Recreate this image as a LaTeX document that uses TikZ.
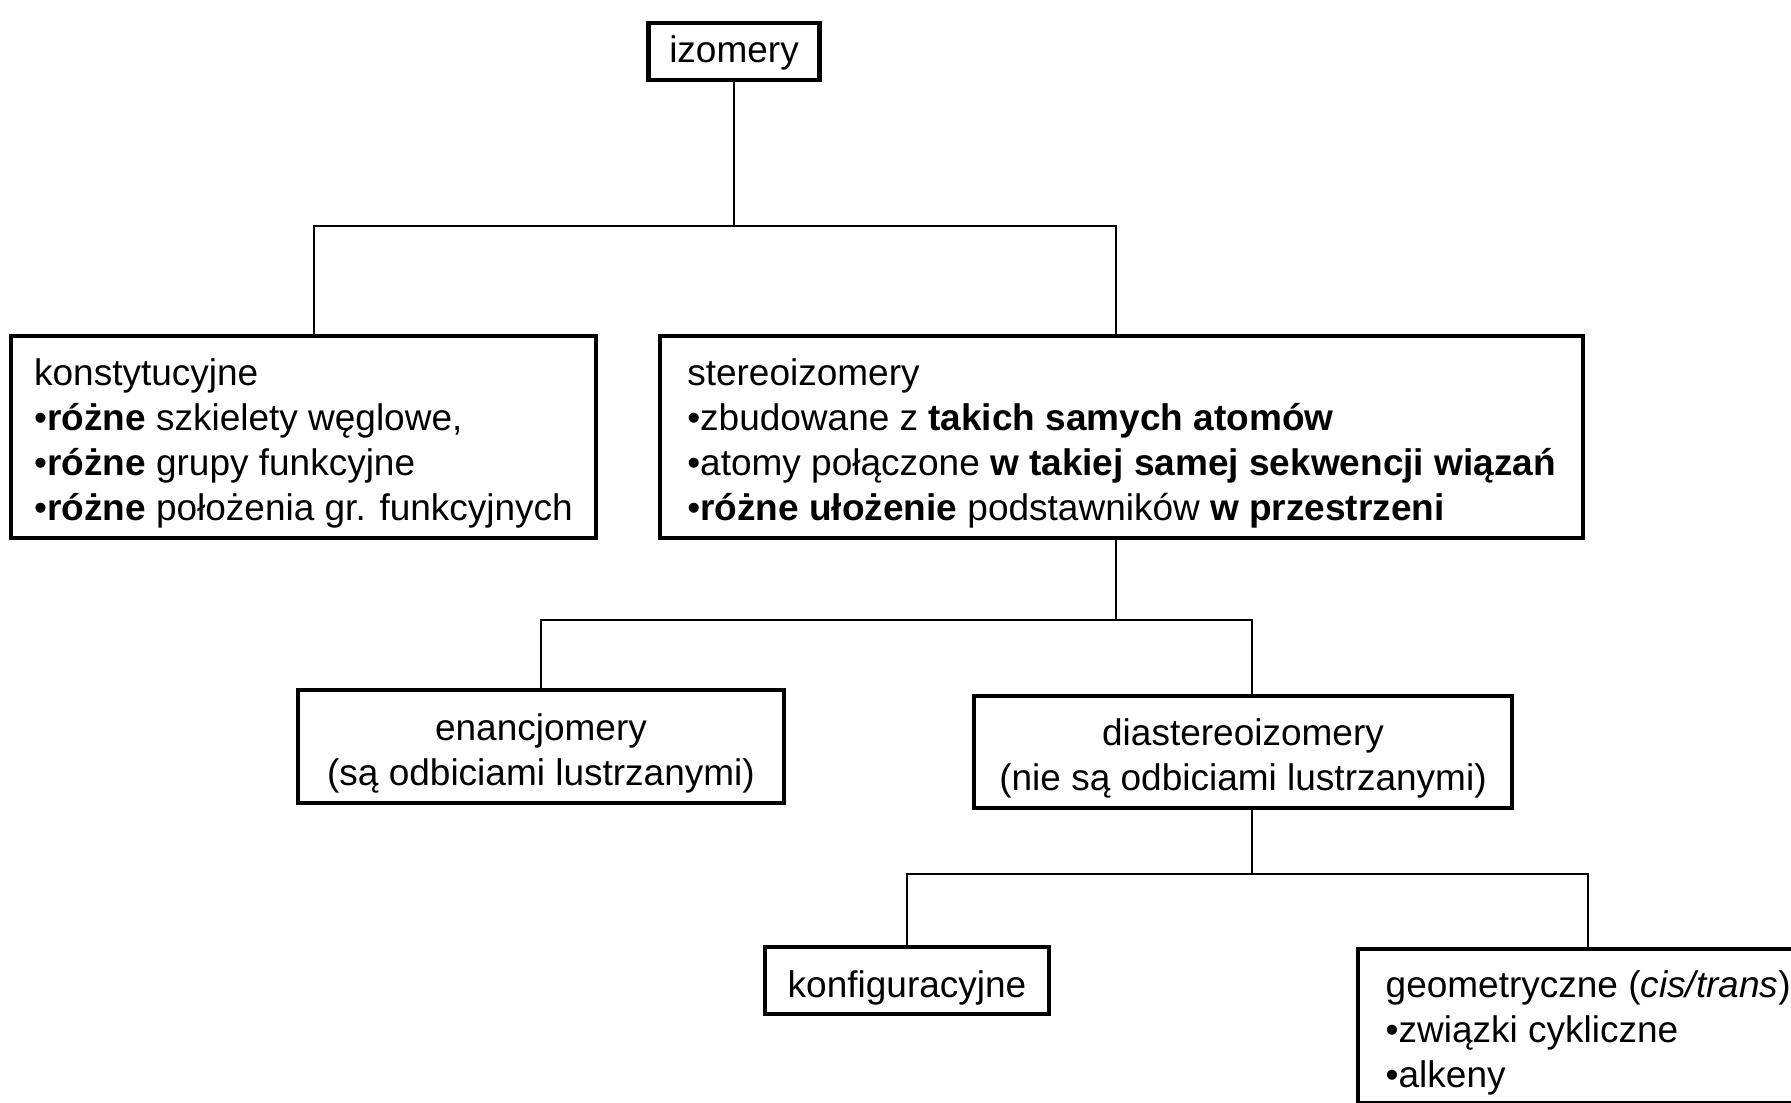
\documentclass[tikz,border=0pt]{standalone}
\usepackage{fontspec}
\setmainfont{Liberation Sans}
\usepackage{tikz}

\newcommand{\boxtext}[3][l]{\raisebox{#2}[\height][\depth]{\begin{tabular}{@{}#1@{}}#3\end{tabular}}}

\begin{document}
\begin{tikzpicture}[x=1pt,y=-1pt]
   \useasboundingbox (0,0) rectangle (895.5,551);
   \begin{scope}[every node/.style={draw=black,line width=2.2pt,inner xsep=10pt,inner ysep=2pt,font=\fontsize{18.5}{22.5}\selectfont}]
    \node[minimum width=85.5pt,minimum height=28.5pt] (izo) at (367,25.75) {\boxtext[c]{-1.2pt}{izomery}};
    \node[minimum width=292.5pt,minimum height=101pt] (konst) at (151.75,218.5)
      {\boxtext{-3.5pt}{konstytucyjne\\
       •\textbf{różne} szkielety węglowe,\\
       •\textbf{różne} grupy funkcyjne\\
       •\textbf{różne} położenia gr. funkcyjnych}};
    \node[minimum width=461.5pt,minimum height=101pt] (stereo) at (560.75,218.5)
      {\boxtext{-3.5pt}{stereoizomery\\
       •zbudowane z \textbf{takich samych atomów}\\
       •atomy połączone \textbf{w takiej samej sekwencji wiązań}\\
       •\textbf{różne ułożenie} podstawników \textbf{w przestrzeni}}};
    \node[minimum width=243pt,minimum height=56.5pt] (enan) at (270.5,373.25)
      {\boxtext[c]{-3.5pt}{enancjomery\\(są odbiciami lustrzanymi)}};
    \node[minimum width=269pt,minimum height=56pt] (diast) at (621.5,376)
      {\boxtext[c]{-3.5pt}{diastereoizomery\\(nie są odbiciami lustrzanymi)}};
    \node[minimum width=142pt,minimum height=33.5pt] (konf) at (453.5,490.25) {\boxtext[c]{-3.8pt}{konfiguracyjne}};
    \node[minimum width=230pt,minimum height=77pt,anchor=north west] (geom) at (678,473.5)
      {\boxtext{-3.5pt}{geometryczne (\textit{cis/trans})\\
       •związki cykliczne\\
       •alkeny}};
   \end{scope}
   \coordinate (c1) at (izo.south |- 0,113);
   \coordinate (c2) at ([xshift=-2.9pt]stereo.south |- 0,310);
   \coordinate (c3) at ([xshift=4.6pt]diast.south |- 0,437);
   \begin{scope}[line width=1pt]
    \draw (izo) -- (c1);
    \draw (c1) -| ([xshift=5.1pt]konst.north);
    \draw (c1) -| ([xshift=-2.9pt]stereo.north);
    \draw ([xshift=-2.9pt]stereo.south) -- (c2);
    \draw (c2) -| (enan);
    \draw (c2) -| ([xshift=4.6pt]diast.north);
    \draw ([xshift=4.6pt]diast.south) -- (c3);
    \draw (c3) -| (konf);
    \draw (c3) -| (geom);
   \end{scope}
\end{tikzpicture}
\end{document}
